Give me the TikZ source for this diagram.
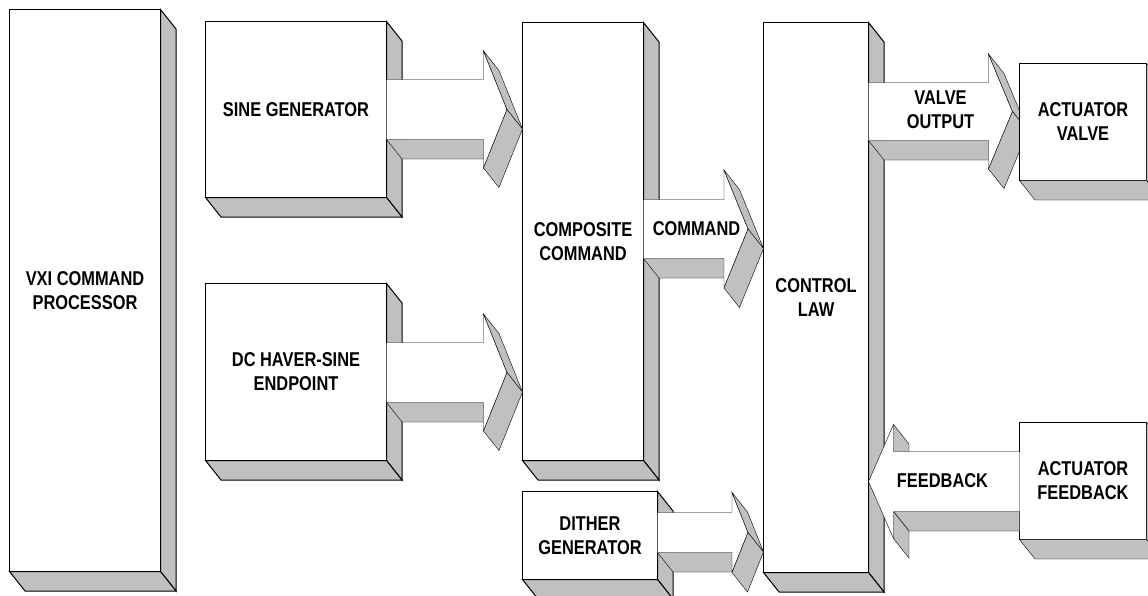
\documentclass[tikz,border=0pt]{standalone}
\usepackage{fontspec}
\setmainfont{Liberation Sans}[FakeStretch=0.82]
\usepackage{tikz}
\usetikzlibrary{calc}
\pgfdeclarelayer{fore}
\pgfsetlayers{main,fore}
\definecolor{facegray}{RGB}{192,192,192}
\def\depx{15.5}
\def\depy{19.5}
% side and bottom faces of a block
\newcommand\blockcube[1]{%
  \draw[sideface] (#1.north east) -- ++(\depx,\depy) -- ($(#1.south east)+(\depx,\depy)$) -- (#1.south east) -- cycle;
  \draw[sideface] (#1.south west) -- (#1.south east) -- ++(\depx,\depy) -- ($(#1.south west)+(\depx,\depy)$) -- cycle;}
% fat arrow to the right: from, to, y, half shaft, half head, head length, gap
\newcommand\fatarrowr[7]{%
  \coordinate (sp) at (#1.east |- 0,#3);
  \coordinate (tp) at ($(#2.west |- 0,#3)+(-#7,0)$);
  \coordinate (bp) at ($(tp)+(-#6,0)$);
  \coordinate (s1) at ($(sp)+(0,-#4)$);
  \coordinate (s2) at ($(sp)+(0,#4)$);
  \coordinate (h1) at ($(bp)+(0,-#4)$);
  \coordinate (h2) at ($(bp)+(0,#4)$);
  \coordinate (a1) at ($(bp)+(0,-#5)$);
  \coordinate (a2) at ($(bp)+(0,#5)$);
  \draw[sideface] (s2) -- (h2) -- ++(\depx,\depy) -- ($(s2)+(\depx,\depy)$) -- cycle;
  \fill[white] (s1) -- (h1) -- (a1) -- (tp) -- (a2) -- (h2) -- (s2) -- cycle;
  \draw (s1) -- (h1) -- (a1) -- (tp) -- (a2) -- (h2) -- (s2);
  \draw[sideface] (a1) -- ++(\depx,\depy) -- ($(tp)+(\depx,\depy)$) -- (tp) -- cycle;
  \draw[sideface] (tp) -- ++(\depx,\depy) -- ($(a2)+(\depx,\depy)$) -- (a2) -- cycle;}
% fat arrow to the left: from, to, y, half shaft, half head, head length
\newcommand\fatarrowl[6]{%
  \coordinate (sp) at (#1.west |- 0,#3);
  \coordinate (tp) at (#2.east |- 0,#3);
  \coordinate (bp) at ($(tp)+(#6,0)$);
  \coordinate (s1) at ($(sp)+(0,-#4)$);
  \coordinate (s2) at ($(sp)+(0,#4)$);
  \coordinate (h1) at ($(bp)+(0,-#4)$);
  \coordinate (h2) at ($(bp)+(0,#4)$);
  \coordinate (a1) at ($(bp)+(0,-#5)$);
  \coordinate (a2) at ($(bp)+(0,#5)$);
  \draw[sideface] (h2) -- (s2) -- ($(s2)+(0,\depy)$) -- ($(h2)+(\depx,\depy)$) -- cycle;
  \draw[sideface] (h2) -- (a2) -- ++(\depx,\depy) -- ($(h2)+(\depx,\depy)$) -- cycle;
  \draw[sideface] (a1) -- (h1) -- ($(h1)+(\depx,\depy)$) -- ($(a1)+(\depx,\depy)$) -- cycle;
  \fill[white] (s1) -- (h1) -- (a1) -- (tp) -- (a2) -- (h2) -- (s2) -- cycle;
  \draw (s1) -- (h1) -- (a1) -- (tp) -- (a2) -- (h2) -- (s2);}

\begin{document}
\begin{tikzpicture}[x=1pt,y=-1pt,line width=1pt,
    blk/.style={draw,fill=white,inner sep=0pt,outer sep=0pt,align=center,font=\fontsize{20}{24}\selectfont\bfseries},
    lbl/.style={inner sep=0pt,align=center,font=\fontsize{20}{24}\selectfont\bfseries},
    sideface/.style={draw,fill=facegray}]
  \useasboundingbox (-0.5,-0.5) rectangle (1147.5,594.5);
  \clip (-0.5,-0.5) rectangle (1147.5,594.5);
  % blocks
  \node[blk,minimum width=151pt,minimum height=562pt] (vxi) at (84.5,290) {VXI COMMAND\\PROCESSOR};
  \blockcube{vxi}
  \node[blk,minimum width=181pt,minimum height=176pt] (sine) at (295.5,109) {SINE GENERATOR};
  \blockcube{sine}
  \node[blk,minimum width=181pt,minimum height=177pt] (dc) at (295.5,371.5) {DC HAVER-SINE\\ENDPOINT};
  \blockcube{dc}
  \node[blk,minimum width=121pt,minimum height=438pt] (comp) at (582.5,241) {COMPOSITE\\COMMAND};
  \blockcube{comp}
  \node[blk,minimum width=135pt,minimum height=88pt] (dith) at (589.5,535) {DITHER\\GENERATOR};
  \blockcube{dith}
  \node[blk,minimum width=105pt,minimum height=550pt] (ctrl) at (815.5,297) {CONTROL\\LAW};
  \blockcube{ctrl}
  \begin{pgfonlayer}{fore}
    \node[blk,minimum width=127pt,minimum height=117pt] (actv) at (1082.5,121.5) {ACTUATOR\\VALVE};
    \blockcube{actv}
  \end{pgfonlayer}
  \node[blk,minimum width=127pt,minimum height=117pt] (actf) at (1082.5,480.5) {ACTUATOR\\FEEDBACK};
  \blockcube{actf}
  % arrows
  \fatarrowr{sine}{comp}{109}{30}{58.5}{23.5}{\depx}
  \fatarrowr{dc}{comp}{372}{30}{58.5}{23.5}{\depx}
  \fatarrowr{comp}{ctrl}{228.5}{29.5}{59}{24}{\depx}
  \fatarrowr{dith}{ctrl}{532}{20}{40}{16}{\depx}
  \fatarrowr{ctrl}{actv}{111}{29}{57.5}{24}{7}
  \fatarrowl{actf}{ctrl}{481}{30}{57}{25}
  % arrow texts
  \node[lbl] (cmdtxt) at (696,228.5) {COMMAND};
  \node[lbl] (valvetxt) at (940,109) {VALVE\\OUTPUT};
  \node[lbl] (fbtxt) at (942,480) {FEEDBACK};
\end{tikzpicture}
\end{document}
